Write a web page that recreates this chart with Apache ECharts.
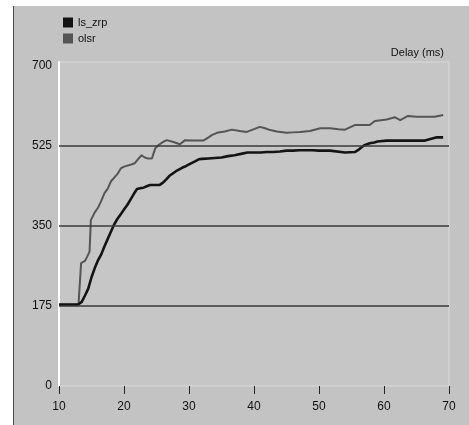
<!DOCTYPE html>
<html>
<head>
<meta charset="utf-8">
<script src="https://cdn.jsdelivr.net/npm/echarts@6/dist/echarts.min.js"></script>
<style>
html,body{margin:0;padding:0;background:#ffffff;width:469px;height:425px;overflow:hidden;}
#frame{position:absolute;left:13px;top:6px;right:0;bottom:0;background:#c3c3c3;border-left:1px solid #4a4a4a;}
#chart{position:absolute;left:0;top:0;width:469px;height:425px;}
</style>
</head>
<body>
<div id="frame"></div>
<div id="chart"></div>
<script>
const seriesNames = ['ls_zrp', 'olsr'];
const xTicks = [10, 20, 30, 40, 50, 60, 70];
const yTicks = [0, 175, 350, 525, 700];
const refLines = [175, 350, 525];

const lsZrpX = [10, 12.5, 13, 13.5, 14, 14.5, 15, 15.5, 16, 16.5, 17, 17.5, 18, 18.5, 19, 19.5, 20, 20.5, 21, 21.5, 22, 22.5, 23, 23.5, 24, 25, 25.5, 26, 26.5, 27, 27.5, 28, 28.5, 29, 29.5, 30, 31, 31.5, 32, 33, 34, 35, 36, 37, 38, 39, 41, 42, 43, 44, 45, 46, 47, 49, 50, 51.7, 52, 54, 55.5, 56, 56.6, 57, 57.8, 58.5, 59, 60.4, 62, 64, 66.3, 67, 68, 69.1];
const lsZrpY = [178, 178, 179, 184, 198, 213, 238, 258, 275, 288, 306, 322, 338, 354, 366, 376, 386, 396, 408, 420, 431, 433, 434, 437, 440, 440, 440, 445, 452, 460, 465, 470, 474, 478, 481, 485, 492, 496, 497, 498, 499, 500, 503, 505, 508, 511, 511, 512, 512, 513, 515, 515, 516, 516, 515, 515, 511, 511, 512, 516, 523, 527, 531, 533, 535, 537, 537, 537, 537, 540, 544, 544];

const olsrX = [10, 13, 13.3, 13.4, 14, 14.3, 14.7, 14.9, 15.5, 16, 16.5, 17, 17.5, 18, 18.5, 19, 19.5, 20, 21, 21.7, 22.2, 22.7, 23.2, 23.6, 24.3, 24.8, 25.3, 26, 26.6, 27.6, 28.6, 29.4, 30.5, 32.2, 33, 33.5, 34.3, 35.5, 36.6, 37.8, 38.9, 40, 40.9, 41.7, 42.5, 43.5, 45, 46, 47.1, 48.6, 50.2, 51.7, 53, 54, 55.5, 57.8, 58.6, 60.4, 61.7, 62.5, 63.7, 65, 67.8, 69.1];
const olsrY = [178, 178, 180, 269, 274, 282, 294, 363, 380, 390, 405, 422, 432, 448, 456, 464, 476, 480, 484, 488, 497, 505, 500, 498, 498, 520, 527, 534, 538, 534, 529, 538, 537, 537, 544, 549, 554, 557, 561, 558, 556, 562, 567, 564, 560, 557, 554, 555, 556, 558, 564, 564, 562, 561, 571, 571, 580, 583, 588, 582, 591, 589, 589, 593];

function zip(xs, ys) { return xs.map((x, i) => [x, ys[i]]); }

const chart = echarts.init(document.getElementById('chart'), null, {renderer: 'canvas'});
const font = 'Liberation Sans, Arial, sans-serif';
chart.setOption({
  backgroundColor: 'transparent',
  animation: false,
  textStyle: {fontFamily: font},
  title: {
    text: 'Delay (ms)', right: 25, top: 47, padding: 0,
    textStyle: {fontSize: 11, fontWeight: 'normal', color: '#111', fontFamily: font}
  },
  legend: {
    data: seriesNames, orient: 'vertical', left: 63, top: 17, padding: 0,
    itemWidth: 10, itemHeight: 10, itemGap: 5, icon: 'rect',
    textStyle: {fontSize: 11, color: '#111', fontFamily: font}
  },
  grid: {
    left: 59, right: 20, top: 62, bottom: 39, containLabel: false,
    show: true, backgroundColor: '#c6c6c6', borderColor: '#dadada', borderWidth: 1
  },
  xAxis: {
    type: 'value', min: xTicks[0], max: xTicks[xTicks.length - 1], interval: 10,
    offset: 3,
    axisLine: {show: false},
    axisTick: {show: true, length: 8, lineStyle: {color: '#222', width: 1}},
    axisLabel: {margin: 12, fontSize: 12, color: '#111', fontFamily: font},
    splitLine: {show: false}
  },
  yAxis: {
    type: 'value', min: 0, max: 709, interval: 175,
    axisLine: {show: true, lineStyle: {color: '#ffffff', width: 2}},
    axisTick: {show: false},
    axisLabel: {
      margin: 7, fontSize: 12, color: '#111', fontFamily: font, padding: [0, 0, 6, 0],
      formatter: v => (yTicks.indexOf(v) >= 0 ? String(v) : '')
    },
    splitLine: {show: false}
  },
  series: [
    {
      name: 'ref', type: 'line', data: [], silent: true, z: 1,
      markLine: {
        silent: true, symbol: 'none', label: {show: false},
        lineStyle: {color: '#3a3a3a', width: 1.5, type: 'solid'},
        data: refLines.map(v => ({yAxis: v}))
      }
    },
    {
      name: seriesNames[1], type: 'line', data: zip(olsrX, olsrY), z: 3,
      showSymbol: false, symbol: 'none',
      itemStyle: {color: '#555555'},
      lineStyle: {color: '#555555', width: 2}
    },
    {
      name: seriesNames[0], type: 'line', data: zip(lsZrpX, lsZrpY), z: 4,
      showSymbol: false, symbol: 'none',
      itemStyle: {color: '#141414'},
      lineStyle: {color: '#141414', width: 2.6}
    }
  ]
});
</script>
</body>
</html>
